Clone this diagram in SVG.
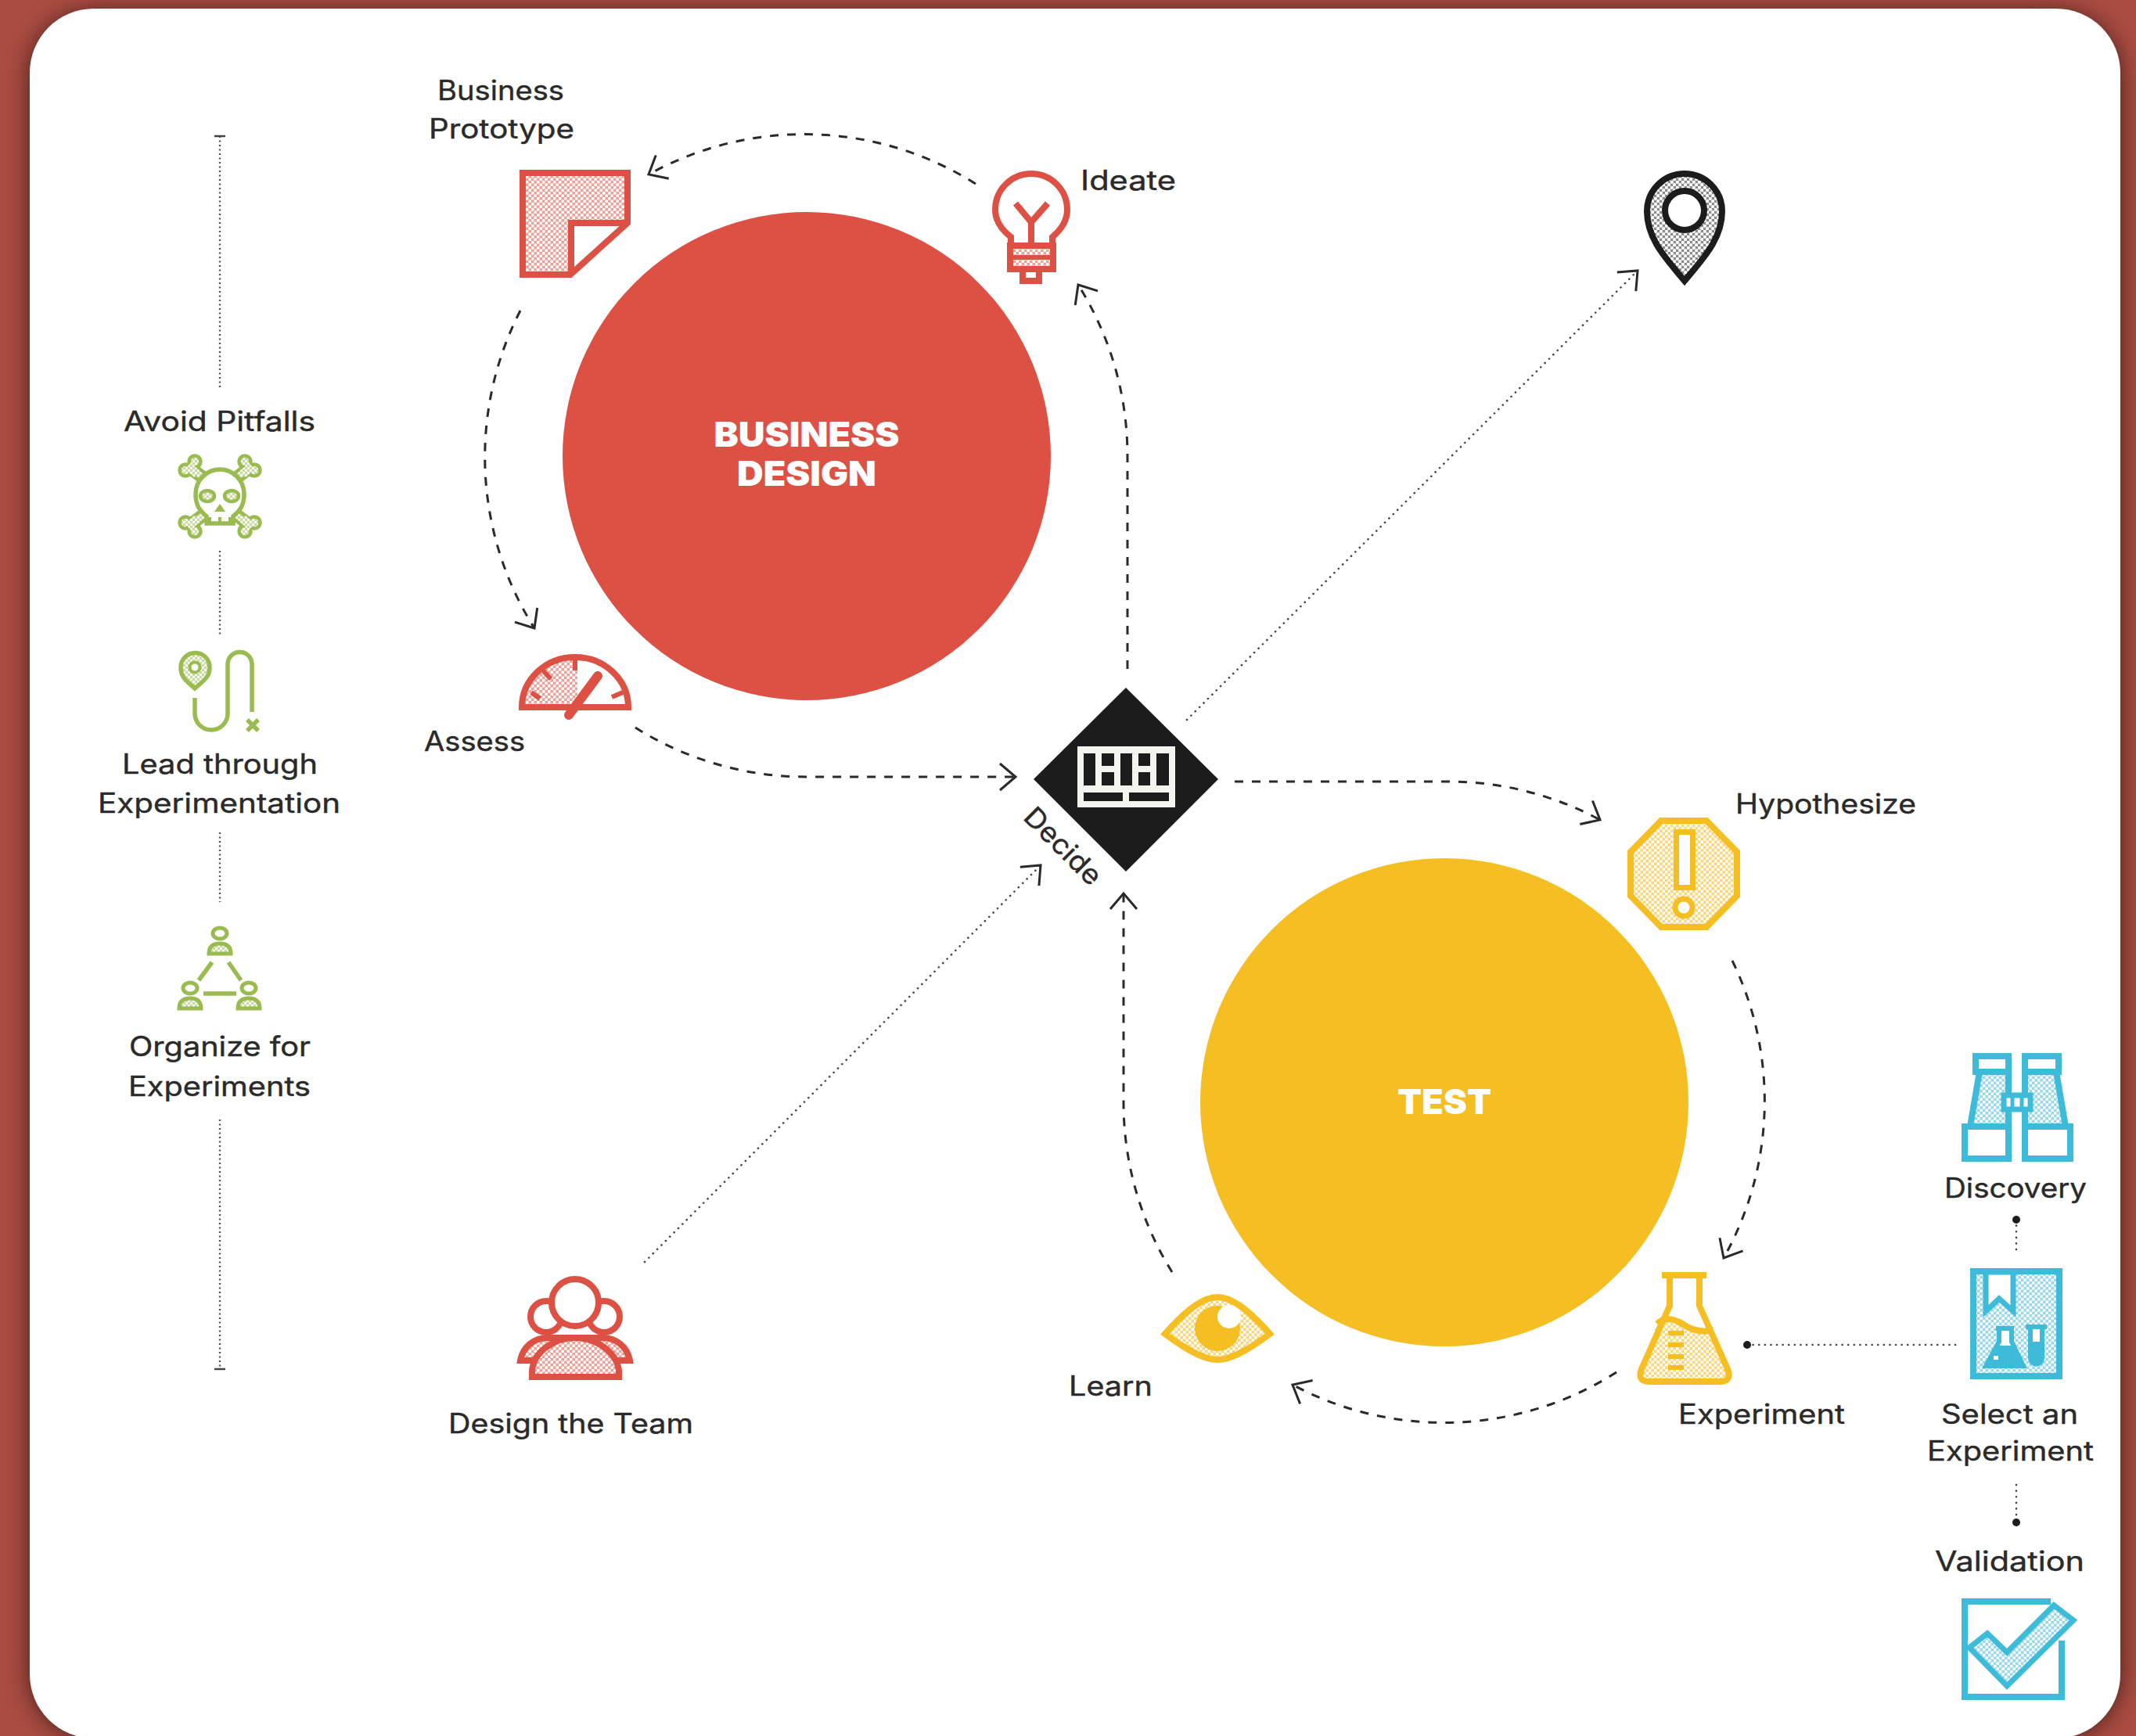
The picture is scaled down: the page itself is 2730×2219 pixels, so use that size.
<svg xmlns="http://www.w3.org/2000/svg" width="2730" height="2219" viewBox="0 0 2730 2219">
<style>
.t{font-family:"Inter","Noto Sans","Liberation Sans",sans-serif;font-size:35px;font-weight:400;fill:#2a2a2a;stroke:#2a2a2a;stroke-width:.4}
.h{font-family:"Inter","Liberation Sans",sans-serif;font-size:44px;font-weight:900;fill:#fff;text-anchor:middle}
.dash{fill:none;stroke:#2a2a2a;stroke-width:3;stroke-dasharray:11 11}
.dot{fill:none;stroke:#444;stroke-width:2.6;stroke-linecap:round;stroke-dasharray:.1 7.5}
.dotv{fill:none;stroke:#555;stroke-width:2.4;stroke-dasharray:2 3.5}
.r{fill:none;stroke:#DD5145;stroke-width:8}
.y{fill:none;stroke:#F5BE23;stroke-width:8}
.g{fill:none;stroke:#9ABB4F;stroke-width:5.500}
.b{fill:none;stroke:#3DBBD9;stroke-width:8}
.w{fill:#fff}
.ink{fill:#1c1c1c}
</style>
<defs>
<filter id="sh" x="-5%" y="-5%" width="110%" height="110%"><feGaussianBlur stdDeviation="15"/></filter>
<marker id="ah" markerUnits="userSpaceOnUse" markerWidth="50" markerHeight="50" refX="25" refY="25" orient="auto" overflow="visible"><path d="M5,8 L25,25 L5,42" fill="none" stroke="#2a2a2a" stroke-width="3"/></marker>
<pattern id="pr" width="7" height="7" patternUnits="userSpaceOnUse"><rect width="7" height="7" fill="#EE9F98"/><circle cx="1.75" cy="1.75" r="2" fill="#fff"/><circle cx="5.25" cy="5.25" r="2" fill="#fff"/></pattern>
<pattern id="py" width="7" height="7" patternUnits="userSpaceOnUse"><rect width="7" height="7" fill="#F9D678"/><circle cx="1.75" cy="1.75" r="2" fill="#fff"/><circle cx="5.25" cy="5.25" r="2" fill="#fff"/></pattern>
<pattern id="pg" width="6" height="6" patternUnits="userSpaceOnUse"><rect width="6" height="6" fill="#C6D89A"/><circle cx="1.5" cy="1.5" r="1.7" fill="#fff"/><circle cx="4.5" cy="4.5" r="1.7" fill="#fff"/></pattern>
<pattern id="pb" width="7" height="7" patternUnits="userSpaceOnUse"><rect width="7" height="7" fill="#95D8EA"/><circle cx="1.75" cy="1.75" r="2" fill="#fff"/><circle cx="5.25" cy="5.25" r="2" fill="#fff"/></pattern>
<pattern id="pk" width="7" height="7" patternUnits="userSpaceOnUse"><rect width="7" height="7" fill="#8a8a8a"/><circle cx="1.75" cy="1.75" r="2.2" fill="#fff"/><circle cx="5.25" cy="5.25" r="2.2" fill="#fff"/></pattern>
<g id="bone"><path d="M243,598 L264,614" stroke="#9ABB4F" stroke-width="17" fill="none"/><path d="M240,596 L266,615" stroke="url(#pg)" stroke-width="8" fill="none"/><circle cx="237" cy="601" r="7.500" fill="url(#pg)" stroke="#9ABB4F" stroke-width="4.500"/><circle cx="249" cy="590" r="7.500" fill="url(#pg)" stroke="#9ABB4F" stroke-width="4.500"/><path d="M240,596 L252,606" stroke="url(#pg)" stroke-width="11" fill="none"/></g>
<g id="person"><ellipse cx="0" cy="0" rx="9" ry="7" fill="#fff" stroke="#9ABB4F" stroke-width="5"/><path d="M-14,26 Q-14,13 0,13 Q14,13 14,26 Z" fill="url(#pg)" stroke="#9ABB4F" stroke-width="5"/></g>
</defs>

<rect id="backdrop" width="2730" height="2219" fill="#AA4C42"/>
<rect x="38" y="15" width="2672" height="2207" rx="82" fill="#000" opacity=".6" filter="url(#sh)"/>
<rect id="card" x="38" y="11" width="2672" height="2211" rx="82" class="w"/>

<g id="connectors">
<path class="dash" marker-end="url(#ah)" d="M1247,235 A410,410 0 0 0 829,223"/>
<path class="dash" marker-end="url(#ah)" d="M665,397 A410,410 0 0 0 683,803"/>
<path class="dash" marker-end="url(#ah)" d="M812,930 A410,410 0 0 0 1031,993 H1298"/>
<path class="dash" marker-end="url(#ah)" d="M1441,855 V583 A410,410 0 0 0 1378,364"/>
<path class="dash" marker-end="url(#ah)" d="M1578,999 H1845 A410,410 0 0 1 2045,1048"/>
<path class="dash" marker-end="url(#ah)" d="M2214,1228 A410,410 0 0 1 2203,1608"/>
<path class="dash" marker-end="url(#ah)" d="M2066,1754 A410,410 0 0 1 1652,1770"/>
<path class="dash" marker-end="url(#ah)" d="M1498,1626 A410,410 0 0 1 1436,1409 V1142"/>
<path class="dot" marker-end="url(#ah)" d="M1517,920 L2093,346"/>
<path class="dot" marker-end="url(#ah)" d="M824,1613 L1330,1106"/>
<path class="dot" d="M2233,1719 H2502"/>
<circle class="ink" cx="2233" cy="1719" r="5"/>
<path class="dot" d="M2577,1559 V1600"/>
<circle class="ink" cx="2577" cy="1559" r="5"/>
<path class="dot" d="M2577,1898 V1946"/>
<circle class="ink" cx="2577" cy="1946" r="5"/>
<path class="dotv" d="M281,174 V496 M281,704 V814 M281,1064 V1153 M281,1431 V1748"/>
<path d="M274,174 H288 M274,1750 H288" stroke="#444" stroke-width="2.4"/>
</g>

<g id="business-design"><circle cx="1031" cy="583" r="312" fill="#DD5145"/>
<text class="h" x="1031" y="571" textLength="237" lengthAdjust="spacingAndGlyphs">BUSINESS</text>
<text class="h" x="1031" y="621" textLength="178" lengthAdjust="spacingAndGlyphs">DESIGN</text></g>
<g id="test"><circle cx="1846" cy="1409" r="312" fill="#F5BE23"/>
<text class="h" x="1846" y="1424" textLength="120" lengthAdjust="spacingAndGlyphs">TEST</text></g>

<g id="business-prototype">
<path d="M668,221 H802 V286 L729,352 H668 Z" fill="url(#pr)"/>
<path d="M730,286 H802 L729,351 Z" class="w"/>
<path class="r" d="M668,221 H802 V285 L729,351 H668 Z M730,351 V285 H802"/>
<text class="t" x="559" y="128" textLength="162" lengthAdjust="spacingAndGlyphs">Business</text>
<text class="t" x="548" y="177" textLength="186" lengthAdjust="spacingAndGlyphs">Prototype</text>
</g>

<g id="ideate">
<path class="r" d="M1292,312 V303 C1278,292 1272,280 1272,268 A46,46 0 0 1 1364,268 C1364,280 1358,292 1345,303 V312"/>
<path class="r" d="M1298,260 L1318,284 L1339,260 M1318,284 V312" stroke-width="6"/>
<rect x="1293" y="313" width="52" height="31" fill="url(#pr)"/>
<path class="r" d="M1291,314 H1346 V344 H1291 Z"/>
<path d="M1292,329 H1346" stroke="#DD5145" stroke-width="6"/>
<path class="r" d="M1307,346 V359 H1328 V346"/>
<text class="t" x="1381" y="243" textLength="122" lengthAdjust="spacingAndGlyphs">Ideate</text>
</g>

<g id="assess">
<path d="M738,843 A66,66 0 0 0 669,900 H738 Z" fill="url(#pr)"/>
<path class="r" d="M667,904 A68,64 0 0 1 803,904 Z"/>
<path d="M735,840 V857 M694,857 L704,868 M679,885 L690,893 M782,891 L796,885" stroke="#DD5145" stroke-width="6" fill="none"/>
<path d="M727,914 L764,864" stroke="#DD5145" stroke-width="12" stroke-linecap="round"/>
<text class="t" x="542" y="960" textLength="129" lengthAdjust="spacingAndGlyphs">Assess</text>
</g>

<g id="design-the-team">
<circle class="r" cx="698" cy="1683" r="20"/><circle class="r" cx="772" cy="1683" r="20"/>
<path d="M665,1739 C668,1722 682,1710 700,1710 H770 C788,1710 802,1722 805,1739 Z" fill="url(#pr)" stroke="#DD5145" stroke-width="8"/>
<path d="M680,1760 V1752 C682,1728 708,1710 735,1710 C762,1710 788,1728 791,1752 V1760 Z" fill="url(#pr)" stroke="#DD5145" stroke-width="8"/>
<circle cx="735" cy="1665" r="30" fill="#fff" stroke="#DD5145" stroke-width="8"/>
<text class="t" x="573" y="1832" textLength="313" lengthAdjust="spacingAndGlyphs">Design the Team</text>
</g>

<g id="goal-pin">
<path d="M2153,359 C2130,331 2105,306 2105,270 A48,48 0 0 1 2201,270 C2201,306 2176,331 2153,359 Z" fill="url(#pk)" stroke="#1c1c1c" stroke-width="8"/>
<circle cx="2153" cy="269" r="25" fill="#fff" stroke="#1c1c1c" stroke-width="8"/>
</g>

<g id="decide">
<path class="ink" d="M1439,879 L1557,996 L1439,1114 L1321,996 Z"/>
<path fill-rule="evenodd" fill="#f4f4ee" d="M1377,954 H1502 V1032 H1377 Z M1385,963 V1004 H1400 V963 Z M1408,963 V979 H1424 V963 Z M1408,987 V1004 H1424 V987 Z M1432,963 V1004 H1447 V963 Z M1455,963 V979 H1470 V963 Z M1455,987 V1004 H1470 V987 Z M1478,963 V1004 H1494 V963 Z M1385,1013 V1024 H1435 V1013 Z M1443,1013 V1024 H1494 V1013 Z"/>
<text class="t" transform="translate(1350,1090) rotate(45)" text-anchor="middle" textLength="124" lengthAdjust="spacingAndGlyphs">Decide</text>
</g>

<g id="hypothesize">
<path d="M2123,1049 H2181 L2220,1089 V1145 L2181,1185 H2123 L2084,1145 V1089 Z" fill="url(#py)" stroke="#F5BE23" stroke-width="8"/>
<rect x="2142.500" y="1063.500" width="21" height="71" fill="#fff" stroke="#F5BE23" stroke-width="7"/>
<circle cx="2152" cy="1160" r="11" fill="#fff" stroke="#F5BE23" stroke-width="7"/>
<text class="t" x="2218" y="1040" textLength="231" lengthAdjust="spacingAndGlyphs">Hypothesize</text>
</g>

<g id="experiment">
<path d="M2118,1692 Q2130,1680 2150,1692 Q2168,1705 2190,1700 L2208,1750 Q2214,1766 2198,1766 H2108 Q2092,1766 2098,1750 Z" fill="url(#py)"/>
<path class="y" d="M2134,1630 V1669 L2098,1750 Q2092,1766 2108,1766 H2198 Q2214,1766 2208,1750 L2172,1669 V1630 M2124,1630 H2181 M2118,1692 Q2130,1680 2150,1692 Q2168,1705 2190,1700"/>
<path d="M2132,1704 H2152 M2132,1719 H2152 M2132,1734 H2152 M2132,1748 H2152" stroke="#F5BE23" stroke-width="6"/>
<text class="t" x="2145" y="1820" textLength="213" lengthAdjust="spacingAndGlyphs">Experiment</text>
</g>

<g id="learn">
<path d="M1489,1705 C1520,1670 1540,1658 1556,1658 C1572,1658 1592,1670 1623,1705 C1592,1728 1572,1738 1556,1738 C1540,1738 1520,1728 1489,1705 Z" fill="url(#py)" stroke="#F5BE23" stroke-width="8"/>
<circle cx="1556" cy="1698" r="29" fill="#F5BE23"/><circle cx="1571" cy="1683" r="15" fill="#fff"/>
<text class="t" x="1366" y="1784" textLength="107" lengthAdjust="spacingAndGlyphs">Learn</text>
</g>

<g id="avoid-pitfalls">
<use href="#bone"/>
<use href="#bone" transform="translate(562,0) scale(-1,1)"/>
<use href="#bone" transform="translate(0,1269) scale(1,-1)"/>
<use href="#bone" transform="translate(562,1269) scale(-1,-1)"/>
<path d="M250,632 C250,612 266,600 281,600 C296,600 312,612 312,632 C312,650 302,656 298,660 V669 H264 V660 C260,656 250,650 250,632 Z" fill="#fff" stroke="#9ABB4F" stroke-width="5.500"/>
<ellipse cx="265" cy="634" rx="9" ry="7" fill="url(#pg)" stroke="#9ABB4F" stroke-width="4.500"/>
<ellipse cx="296" cy="634" rx="9" ry="7" fill="url(#pg)" stroke="#9ABB4F" stroke-width="4.500"/>
<path d="M281,644 L274,654 H288 Z" fill="#9ABB4F"/>
<path d="M268,661 V669 M281,661 V669 M294,661 V669" stroke="#9ABB4F" stroke-width="4"/>
<text class="t" x="158" y="551" textLength="245" lengthAdjust="spacingAndGlyphs">Avoid Pitfalls</text>
</g>

<g id="lead-through-experimentation">
<path d="M249,880 C238,870 231,866 231,853 A18,18 0 0 1 268,853 C268,866 260,870 249,880 Z" fill="url(#pg)" stroke="#9ABB4F" stroke-width="5.500"/>
<circle cx="249" cy="853" r="6.500" fill="#fff" stroke="#9ABB4F" stroke-width="4"/>
<path class="g" d="M249,892 V912 A21,21 0 0 0 291,912 V849 A15.500,15.500 0 0 1 322,849 V910"/>
<path d="M316,920 L330,934 M330,920 L316,934" stroke="#9ABB4F" stroke-width="5.500" fill="none"/>
<text class="t" x="156" y="989" textLength="250" lengthAdjust="spacingAndGlyphs">Lead through</text>
<text class="t" x="125" y="1039" textLength="310" lengthAdjust="spacingAndGlyphs">Experimentation</text>
</g>

<g id="organize-for-experiments">
<use href="#person" x="281" y="1193"/>
<use href="#person" x="243" y="1263"/>
<use href="#person" x="318" y="1263"/>
<path class="g" d="M271,1230 L254,1253 M292,1230 L308,1253 M260,1270 H302"/>
<text class="t" x="165" y="1350" textLength="232" lengthAdjust="spacingAndGlyphs">Organize for</text>
<text class="t" x="164" y="1401" textLength="233" lengthAdjust="spacingAndGlyphs">Experiments</text>
</g>

<g id="discovery">
<path d="M2529,1373 H2567 V1436 H2518 Z M2588,1373 H2628 L2639,1436 H2588 Z" fill="url(#pb)"/>
<path class="b" d="M2525,1350 H2567 V1370 H2525 Z M2588,1350 H2631 V1370 H2588 Z M2530,1370 L2518,1440 M2628,1370 L2640,1440 M2567,1370 V1397 M2588,1370 V1397 M2567,1421 V1440 M2588,1421 V1440 M2511,1440 H2567 V1481 H2511 Z M2588,1440 H2646 V1481 H2588 Z"/>
<rect x="2561" y="1400" width="34" height="18" fill="#fff" stroke="#3DBBD9" stroke-width="7"/>
<path d="M2572,1400 V1418 M2584,1400 V1418" stroke="#3DBBD9" stroke-width="5"/>
<text class="t" x="2485" y="1531" textLength="182" lengthAdjust="spacingAndGlyphs">Discovery</text>
</g>

<g id="select-an-experiment">
<rect x="2522" y="1625" width="110" height="134" fill="url(#pb)" stroke="#3DBBD9" stroke-width="8"/>
<path d="M2538,1626 V1676 L2555,1660 L2573,1676 V1626 Z" fill="#fff" stroke="#3DBBD9" stroke-width="7"/>
<path d="M2551,1698 H2574 M2555,1698 V1715 L2538,1746 H2586 L2571,1715 V1698" fill="#fff" stroke="#3DBBD9" stroke-width="6"/>
<path d="M2540,1742 L2553,1720 H2573 L2586,1746 H2538 Z" fill="#3DBBD9"/>
<rect x="2548" y="1733" width="6" height="5" fill="#fff"/>
<path d="M2589,1696 H2616 M2595,1696 V1736 A7.500,7.500 0 0 0 2610,1736 V1696" fill="#fff" stroke="#3DBBD9" stroke-width="6"/>
<path d="M2595,1715 H2610 V1736 A7.500,7.500 0 0 1 2595,1736 Z" fill="#3DBBD9"/>
<text class="t" x="2481" y="1820" textLength="175" lengthAdjust="spacingAndGlyphs">Select an</text>
<text class="t" x="2463" y="1867" textLength="213" lengthAdjust="spacingAndGlyphs">Experiment</text>
</g>

<g id="validation">
<path class="b" d="M2621,2047 H2511 V2169 H2635 V2097"/>
<path d="M2517,2106 L2540,2088 L2565,2112 L2625,2052 L2650,2071 L2565,2155 Z" fill="url(#pb)" stroke="#3DBBD9" stroke-width="7"/>
<text class="t" x="2473" y="2008" textLength="191" lengthAdjust="spacingAndGlyphs">Validation</text>
</g>
</svg>
